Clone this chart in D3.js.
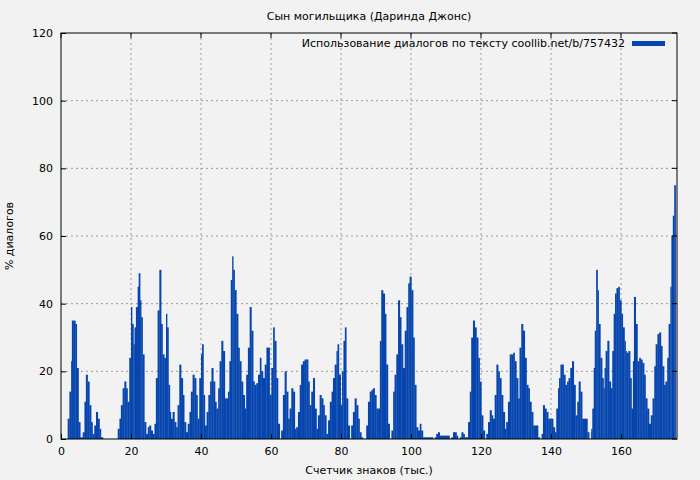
<!DOCTYPE html>
<html>
<head>
<meta charset="utf-8">
<script src="https://cdn.jsdelivr.net/npm/d3@7"></script>
<style>
  body { margin: 0; background: #f2f2f2; }
  text { font-family: "DejaVu Sans", sans-serif; font-size: 11px; fill: #000; }
</style>
</head>
<body>
<div id="container"></div>
<script>
const width = 700;
const height = 480;

// text position, thousands of chars
const pos = [0,1.4,1.9,2.4,2.9,3.1,3.6,4.1,4.5,5,5.5,6.2,6.7,7.1,7.6,8.1,8.6,9,9.5,10,10.5,11,11.4,12,
  16.2,16.7,17.1,17.6,18.1,18.6,19,19.5,20,20.3,20.7,21,21.4,21.9,22.2,22.6,22.9,23.3,23.8,24.3,24.8,25.2,25.7,26.2,26.7,
  27.1,27.6,28.1,28.6,29,29.5,30,30.3,30.7,31.1,31.4,31.9,32.4,32.9,33.3,33.8,34.3,34.8,35.2,35.7,36.2,36.7,37.1,37.6,
  38.1,38.6,39,39.5,40,40.3,40.7,41.1,41.6,42.1,42.6,43,43.5,44,44.4,44.9,45.3,45.8,46.3,46.8,47.2,47.7,48.1,48.5,48.9,
  49.2,49.6,50.1,50.6,51,51.5,52,52.5,52.9,53.4,53.9,54.4,54.9,55.3,55.8,56.3,56.8,57.2,57.7,58.2,58.7,59.1,59.6,60.1,
  60.6,61,61.5,62,62.5,62.9,63.4,63.9,64.4,64.9,65.3,65.8,66.3,66.8,67.2,67.7,68.2,68.6,69.1,69.6,70.1,70.6,71,71.5,72,
  72.5,73,73.4,73.9,74.4,74.9,75.3,75.8,76.3,76.8,77.3,77.7,78.2,78.7,79,79.4,79.9,80.3,80.7,81.1,81.5,82,82.5,82.9,83.4,
  83.9,84.4,84.9,85.3,85.8,86.3,87.2,87.7,88.2,88.7,89.1,89.6,90.1,90.6,91.1,91.5,92,92.5,92.9,93.4,93.9,94.4,94.9,95.3,
  95.8,96.3,96.8,97.2,97.7,98.2,98.7,99.2,99.6,100.1,100.6,101,101.5,102,102.5,102.9,103.4,106.3,106.8,107.2,107.7,108.2,
  111,111.5,112,112.5,113,113.4,113.9,114.4,114.9,115.3,115.8,116.3,116.8,117.2,117.7,118.2,118.7,119.2,119.6,120.1,120.6,
  121.1,121.5,122,122.5,123,123.4,123.9,124.4,124.9,125.3,125.8,126.3,126.8,127.2,127.7,128.2,128.7,129.2,129.6,130.1,
  130.6,131,131.5,132,132.5,133,133.5,133.9,134.4,134.9,136.3,136.8,137.3,137.7,138.2,138.7,139.2,139.6,140.1,140.6,141.1,
  141.5,142,142.3,142.7,143.2,143.6,144.1,144.6,145,145.5,146,146.5,147,147.5,147.9,148.4,148.9,150.4,150.9,151.4,151.5,
  151.8,152.2,152.5,152.9,153.3,153.6,154.1,154.6,155,155.3,155.6,156.1,156.6,157.1,157.5,157.9,158.3,158.7,159.2,159.6,
  160.1,160.5,161,161.3,161.6,162.1,162.6,163,163.4,163.7,164.2,164.7,165.2,165.6,166.1,166.6,167,167.5,168,168.5,169,
  169.5,169.9,170.4,170.9,171.4,171.8,172.3,172.7,173.2,173.6,174.1,174.4,174.8,175.2];

// dialogue share, %
const pct = [0,0,6,14,23,35,35,34,21,5,0.5,2,11,19,17,10,5,1.5,4,8,6,3,0.5,0,
  3,6,10,15,17,15,11,24,39,34,28,33,39,45,49,41,36,25,5,1.5,3.5,4,2.5,1.5,4.5,
  18,38,50,34,25,24,37,33,16,8,6,8,5,3.5,10,22,18,13,5,2,4.5,8,14,19,
  18,13,6,18,25,28,13,4,8,13,17,21,17,11,9,15,23,29,26,12,12,14,23,47,54,
  50,44,37,27,23,17,13,9,19,27,39,32,17,16,16.5,19,24,20,18,22,27,27,13,21,
  33,29,18,4.5,0,2.5,13,20,14,6,9,15,14,3,3.5,8,16,22,23,23.5,23.5,17,10,14,18,
  9,3,7,13,12,10,7,1.5,5.5,11,14,18,22,26,28,19,10,20,29,33,12,4,0,4,8,
  12,10,6,2,0.5,0,4,11,14,14.5,15,13,9,9,29,44,43,37,22,4.5,0,2.5,14,19,25,
  41,36,28,21,32,39,46,48,44,30,16,3.5,2.5,4.5,2.5,0.5,0,0.5,1.5,2,1,0,
  0.5,2,2,1,0,0.5,2,1.5,0.5,0.5,5,14,30,35,33,30,24,17,7,2.5,0,
  1.5,5,8.5,7,6,13,22,20,18,13,8,3,5,11,25,25,25.5,23,18,12,
  27,34,32,24,16,15,11,8,4,0.5,0,1.5,10,9,8,6,6,6,3.5,2,9,15,
  18,22,22,19,16,17,18,21,23,16,7,11,17,14,6,2,0,2,3,9,21,
  32,50,44,34,24,18,15,21,26,29,17,15,26,37,43,44.6,45,41,37,33,
  29,26,25.5,26,18,9,23,42,34,23,24,23.5,22.5,19,12,9,4.5,7,12,21.5,28,
  31,31.5,27.5,21.5,16,17,24,34,45,60,66,75,47,28];

const xTicks = [0, 20, 40, 60, 80, 100, 120, 140, 160];
const yTicks = [0, 20, 40, 60, 80, 100, 120];

const m = {left: 61, right: 677, top: 33, bottom: 439};

const svg = d3.select("#container").append("svg")
  .attr("width", width)
  .attr("height", height);

svg.append("rect").attr("width", width).attr("height", height).attr("fill", "#f2f2f2");

const x = d3.scaleLinear().domain([0, 176]).range([m.left, m.right]);
const y = d3.scaleLinear().domain([0, 120]).range([m.bottom, m.top]);

// grid
svg.append("g").selectAll("line").data(xTicks.slice(1)).enter().append("line")
  .attr("x1", d => x(d)).attr("x2", d => x(d))
  .attr("y1", m.top).attr("y2", m.bottom)
  .attr("stroke", "#999").attr("stroke-dasharray", "2,3");
svg.append("g").selectAll("line").data(yTicks.slice(1, -1)).enter().append("line")
  .attr("x1", m.left).attr("x2", m.right)
  .attr("y1", d => y(d)).attr("y2", d => y(d))
  .attr("stroke", "#999").attr("stroke-dasharray", "2,3");

// bars
svg.append("g").selectAll("rect").data(pos).enter().append("rect")
  .attr("x", d => x(d))
  .attr("width", (d, i) => Math.max(0, x(i < pos.length - 1 ? pos[i + 1] : d + 0.4) - x(d)) + 0.3)
  .attr("y", (d, i) => y(pct[i]))
  .attr("height", (d, i) => y(0) - y(pct[i]))
  .attr("fill", "#0645ad");

// axes
const xAxis = svg.append("g").attr("transform", `translate(0,${m.bottom})`)
  .call(d3.axisBottom(x).tickValues(xTicks).tickSize(-5).tickPadding(8));
const yAxis = svg.append("g").attr("transform", `translate(${m.left},0)`)
  .call(d3.axisLeft(y).tickValues(yTicks).tickSize(-5).tickPadding(8));
[xAxis, yAxis].forEach(a => {
  a.select(".domain").remove();
  a.selectAll("text").style("font-family", "DejaVu Sans, sans-serif").style("font-size", "11px");
});
// mirror ticks
svg.append("g").selectAll("line").data(xTicks).enter().append("line")
  .attr("x1", d => x(d)).attr("x2", d => x(d)).attr("y1", m.top).attr("y2", m.top + 5).attr("stroke", "#000");
svg.append("g").selectAll("line").data(yTicks).enter().append("line")
  .attr("x1", m.right).attr("x2", m.right - 5).attr("y1", d => y(d)).attr("y2", d => y(d)).attr("stroke", "#000");

svg.append("rect")
  .attr("x", m.left).attr("y", m.top)
  .attr("width", m.right - m.left).attr("height", m.bottom - m.top)
  .attr("fill", "none").attr("stroke", "#000");

svg.append("text").attr("x", 369).attr("y", 20).attr("text-anchor", "middle")
  .text("Сын могильщика (Даринда Джонс)");
svg.append("text").attr("x", 369).attr("y", 474).attr("text-anchor", "middle")
  .text("Счетчик знаков (тыс.)");
svg.append("text").attr("transform", "translate(13,236) rotate(-90)").attr("text-anchor", "middle")
  .text("% диалогов");

// legend
svg.append("text").attr("x", 625).attr("y", 47).attr("text-anchor", "end")
  .text("Использование диалогов по тексту coollib.net/b/757432");
svg.append("rect").attr("x", 632).attr("y", 41).attr("width", 33).attr("height", 5).attr("fill", "#0645ad");
</script>
</body>
</html>
